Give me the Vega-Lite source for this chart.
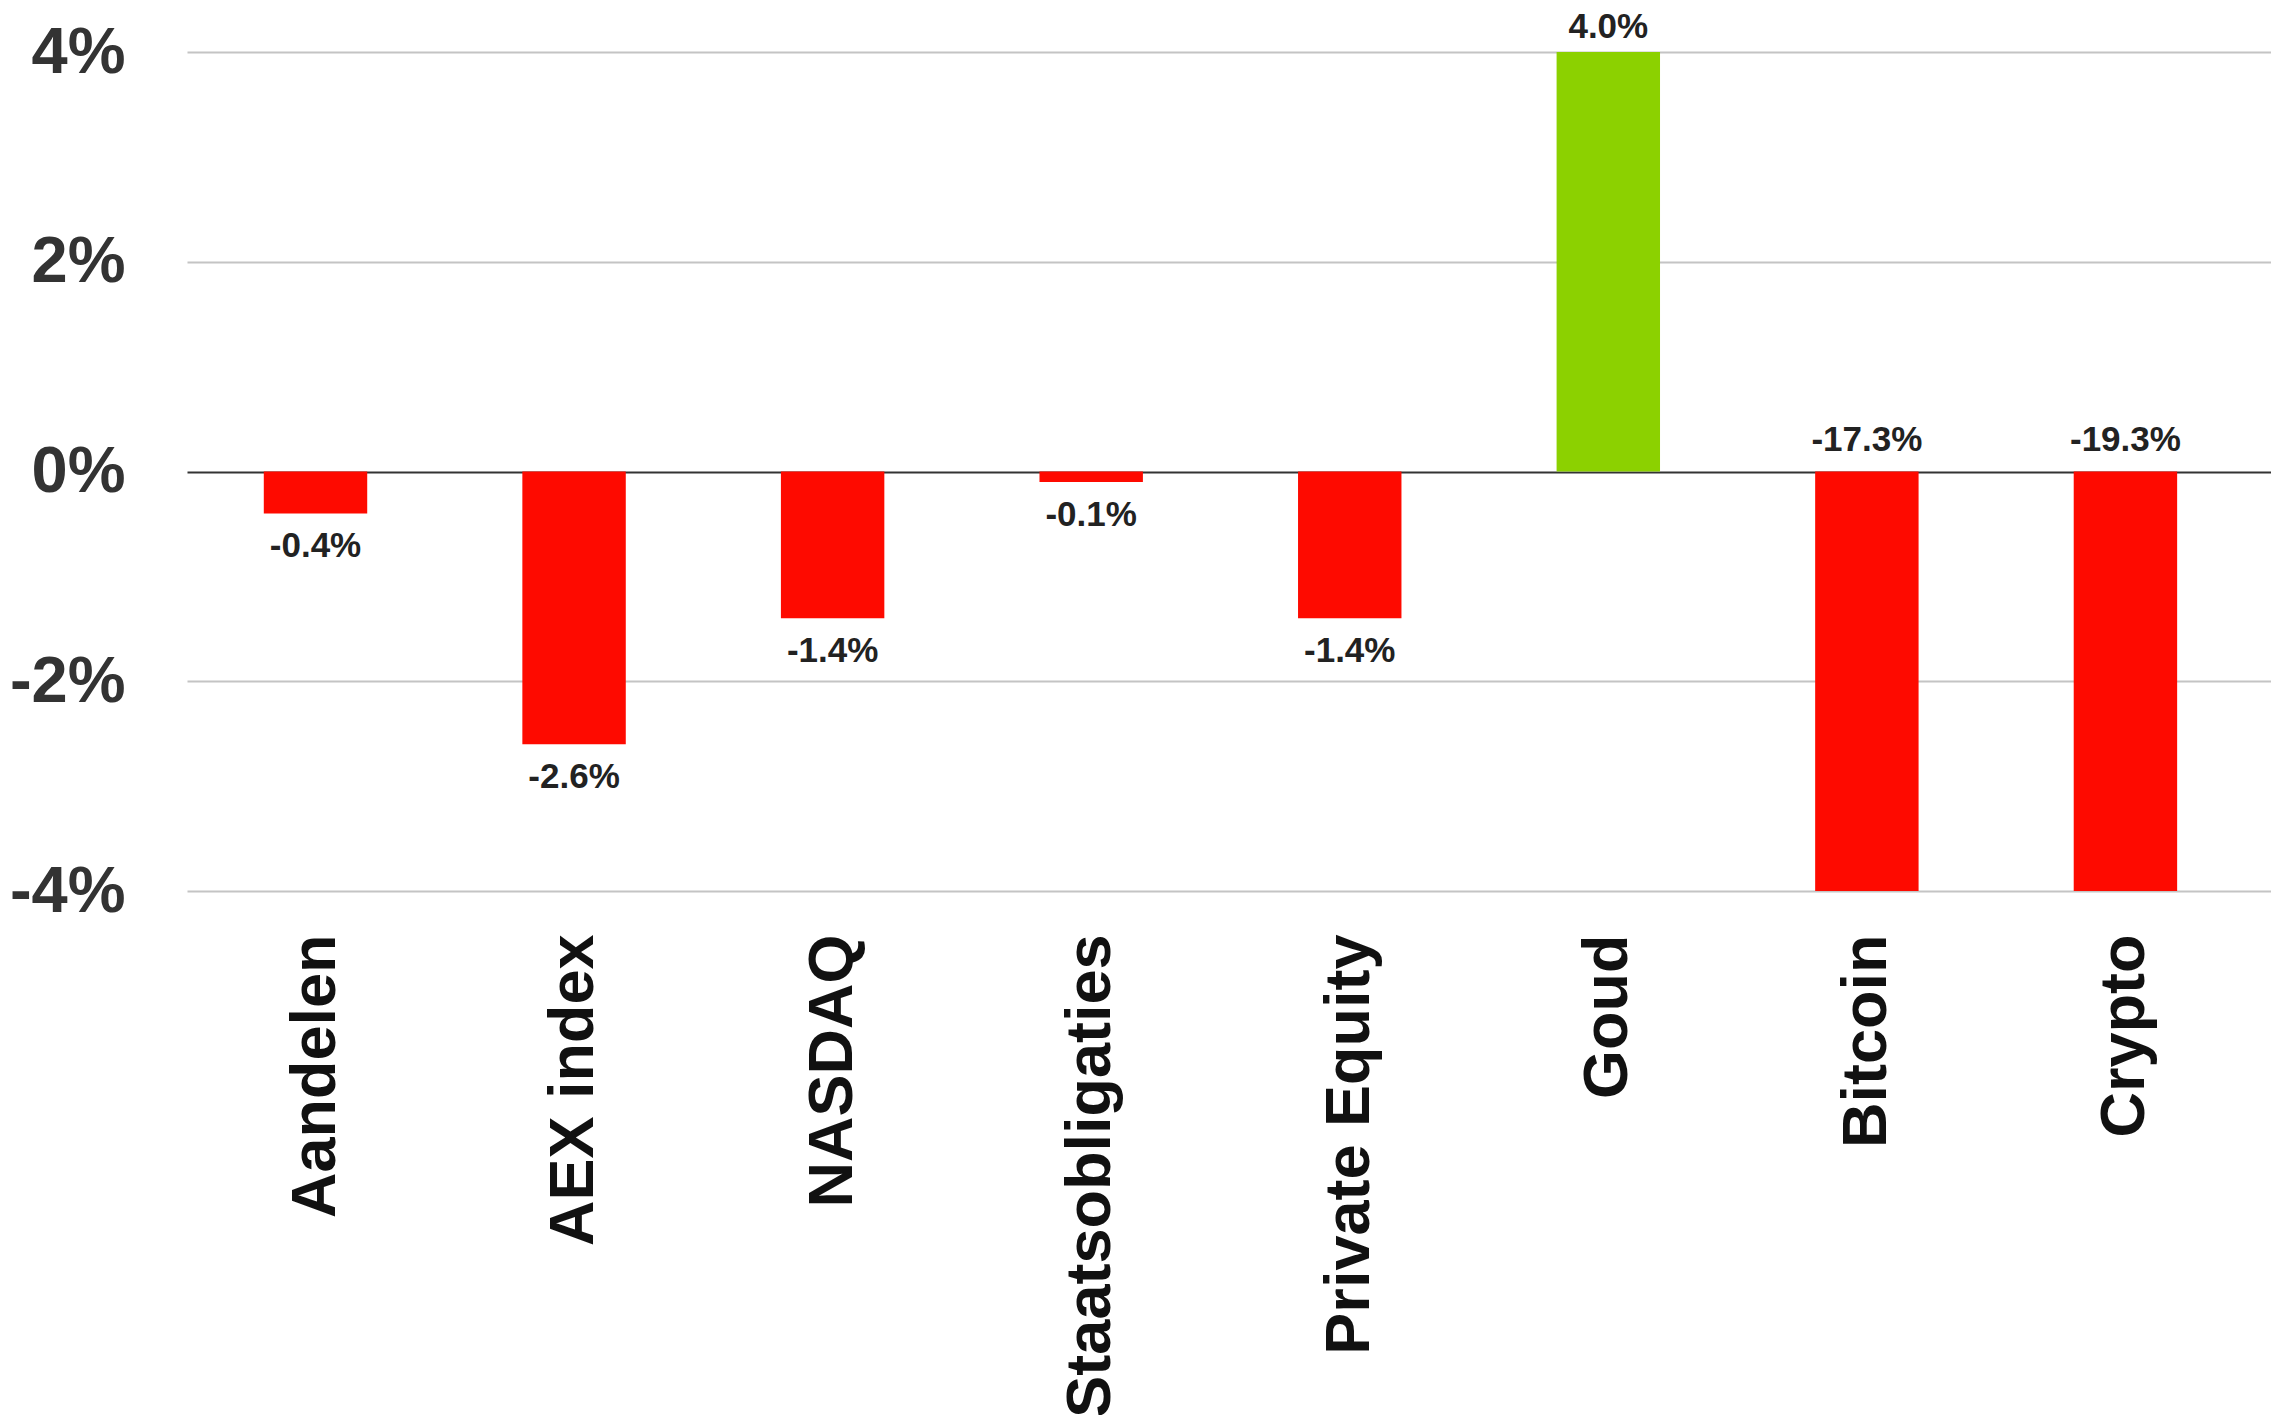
{
  "$schema": "https://vega.github.io/schema/vega-lite/v6.json",
  "width": 2084,
  "height": 839,
  "autosize": {"type": "none"},
  "padding": {"left": 187, "top": 52, "right": 0, "bottom": 524},
  "background": "white",
  "config": {"view": {"stroke": null}},
  "data": {
    "values": [
      {"asset": "Aandelen", "value": -0.4},
      {"asset": "AEX index", "value": -2.6},
      {"asset": "NASDAQ", "value": -1.4},
      {"asset": "Staatsobligaties", "value": -0.1},
      {"asset": "Private Equity", "value": -1.4},
      {"asset": "Goud", "value": 4.0},
      {"asset": "Bitcoin", "value": -17.3},
      {"asset": "Crypto", "value": -19.3}
    ]
  },
  "encoding": {
    "x": {
      "field": "asset",
      "type": "nominal",
      "sort": null,
      "scale": {"paddingInner": 0.6, "paddingOuter": 0.33, "align": 0.45},
      "axis": {
        "title": null,
        "labelAngle": -90,
        "labelFont": "Liberation Sans",
        "labelFontWeight": "bold",
        "labelFontSize": 63,
        "labelColor": "#111111",
        "labelPadding": 43,
        "labelLimit": 2000,
        "labelOverlap": false,
        "ticks": false,
        "domain": false,
        "grid": false
      }
    },
    "y": {
      "field": "value",
      "type": "quantitative",
      "scale": {"domain": [-4, 4], "nice": false},
      "axis": {
        "title": null,
        "values": [-4, -2, 0, 2, 4],
        "labelExpr": "datum.value + '%'",
        "labelFont": "Liberation Sans",
        "labelFontWeight": "bold",
        "labelFontSize": 65,
        "labelColor": "#333333",
        "labelPadding": 62,
        "ticks": false,
        "domain": false,
        "gridColor": {"condition": {"test": "datum.value === 0", "value": "#333333"}, "value": "#c4c4c4"},
        "gridWidth": 2
      }
    }
  },
  "layer": [
    {
      "mark": {"type": "bar", "clip": true},
      "encoding": {
        "color": {"condition": {"test": "datum.value > 0", "value": "#8CD100"}, "value": "#FE0A00"}
      }
    },
    {
      "transform": [{"filter": "datum.value > 0"}],
      "mark": {
        "type": "text",
        "font": "Liberation Sans",
        "fontWeight": "bold",
        "fontSize": 35,
        "color": "#222222",
        "baseline": "alphabetic",
        "dy": -14,
        "text": {"expr": "format(datum.value, '.1f') + '%'"}
      }
    },
    {
      "transform": [{"filter": "datum.value <= 0 && datum.value >= -4"}],
      "mark": {
        "type": "text",
        "font": "Liberation Sans",
        "fontWeight": "bold",
        "fontSize": 35,
        "color": "#222222",
        "baseline": "top",
        "dy": 16,
        "text": {"expr": "'-' + format(abs(datum.value), '.1f') + '%'"}
      }
    },
    {
      "transform": [{"filter": "datum.value < -4"}],
      "mark": {
        "type": "text",
        "font": "Liberation Sans",
        "fontWeight": "bold",
        "fontSize": 35,
        "color": "#222222",
        "baseline": "alphabetic",
        "dy": -21,
        "text": {"expr": "'-' + format(abs(datum.value), '.1f') + '%'"}
      },
      "encoding": {
        "y": {"datum": 0, "type": "quantitative"}
      }
    }
  ]
}
